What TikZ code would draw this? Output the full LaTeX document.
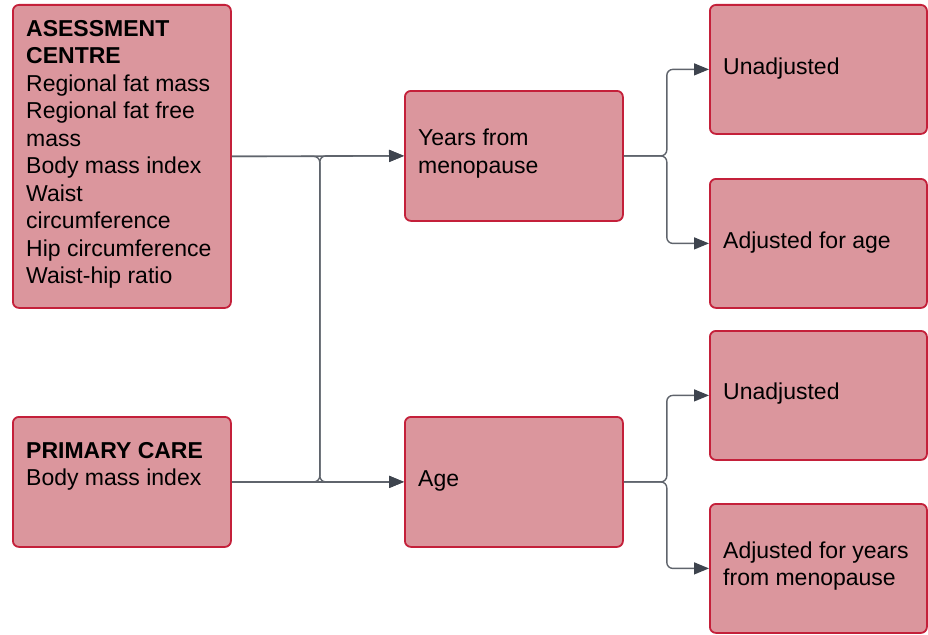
\documentclass[tikz,border=0pt]{standalone}
\usepackage{fontspec}
\setmainfont{Liberation Sans}
\usetikzlibrary{arrows.meta,calc}
\definecolor{boxfill}{RGB}{219,150,157}
\definecolor{boxline}{RGB}{196,32,58}
\definecolor{conncol}{RGB}{95,100,108}
\definecolor{tipcol}{RGB}{62,68,78}
\tikzset{
  box/.style={draw=boxline, fill=boxfill, line width=1.8pt, rounded corners=6pt, minimum width=218pt, inner sep=0pt, anchor=north west},
  txt/.style={anchor=west, align=left, inner sep=0pt, font=\fontsize{23}{27.5}\selectfont, text=black},
  conn/.style={draw=conncol, line width=1.4pt, rounded corners=6pt, -{Triangle[length=15pt,width=12pt,fill=tipcol,color=tipcol]}},
}
\begin{document}
\begin{tikzpicture}[x=1pt,y=1pt]
\useasboundingbox (0,0) rectangle (928,-634);
% boxes
\node[box, minimum height=303pt] (ac) at (12,-4) {};
\node[box, minimum height=130pt] (pc) at (12,-416) {};
\node[box, minimum height=130pt] (yfm) at (404,-90) {};
\node[box, minimum height=130pt] (age) at (404,-416) {};
\node[box, minimum width=217pt, minimum height=129pt] (u1) at (709,-4) {};
\node[box, minimum width=217pt, minimum height=129pt] (a1) at (709,-178) {};
\node[box, minimum width=217pt, minimum height=129pt] (u2) at (709,-330) {};
\node[box, minimum width=217pt, minimum height=129pt] (a2) at (709,-503) {};
% texts
\node[txt] (acT) at ($(ac.west)+(14,2)$) {\textbf{ASESSMENT}\\\textbf{CENTRE}\\Regional fat mass\\Regional fat free\\mass\\Body mass index\\Waist\\circumference\\Hip circumference\\Waist-hip ratio};
\node[txt, anchor=north west] (pcT) at (26,-442) {\textbf{PRIMARY CARE}\\Body mass index};
\node[txt] (yfmT) at ($(yfm.west)+(14,2.5)$) {Years from\\menopause};
\node[txt] (ageT) at ($(age.west)+(14,0.5)$) {Age};
\node[txt] (u1T) at ($(u1.west)+(14,1)$) {Unadjusted};
\node[txt] (a1T) at ($(a1.west)+(14,1)$) {Adjusted for age};
\node[txt] (u2T) at ($(u2.west)+(14,1.5)$) {Unadjusted};
\node[txt] (a2T) at ($(a2.west)+(14,2.5)$) {Adjusted for years\\from menopause};
% connectors
\draw[conn] (ac.east) -- (yfm.west);
\draw[conn] (ac.east) -- ++(88,0) |- (age.west);
\draw[conn] (pc.east) -- ++(88,0) |- (yfm.west);
\draw[conn] (pc.east) -- (age.west);
\draw[conn] (yfm.east) -- ++(43,0) |- (u1.west);
\draw[conn] (yfm.east) -- ++(43,0) |- (a1.west);
\draw[conn] (age.east) -- ++(43,0) |- (u2.west);
\draw[conn] (age.east) -- ++(43,0) |- (a2.west);
\end{tikzpicture}
\end{document}
